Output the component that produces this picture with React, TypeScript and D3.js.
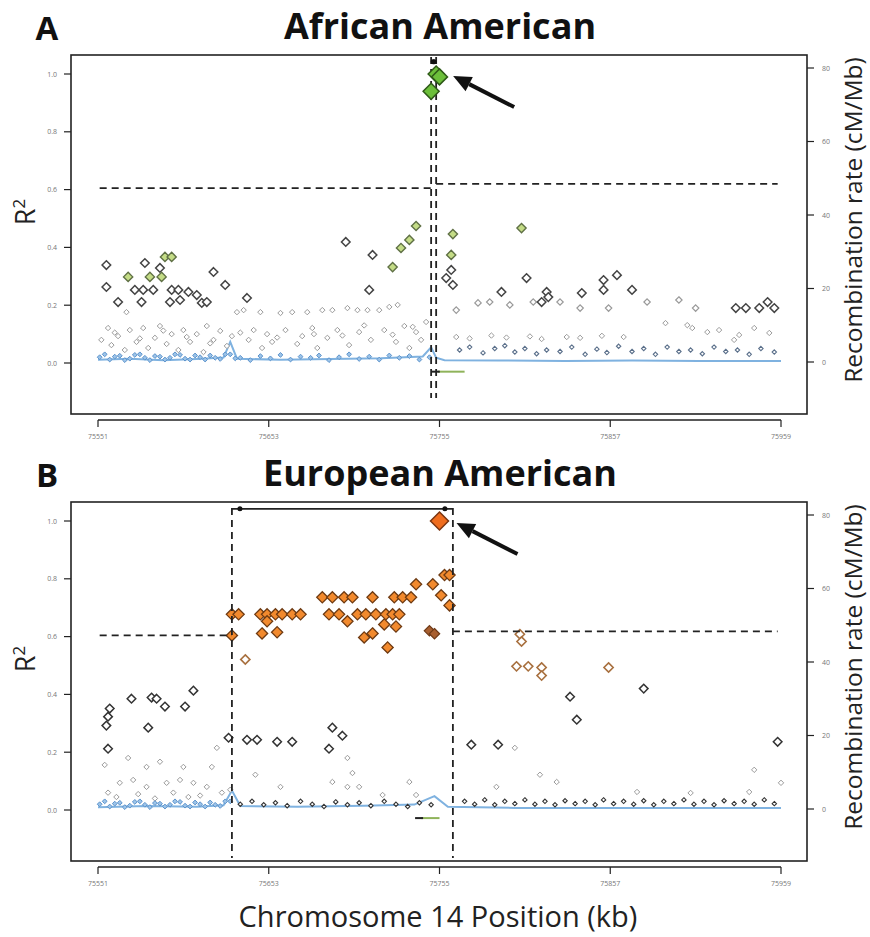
import React from 'react';
import * as d3 from 'd3';

// ---------- axes ----------
const xDomain = [75551, 75959];
const xTickValues = [75551, 75653, 75755, 75857, 75959];
const xTickLabels = ['75551', '75653', '75755', '75857', '75959'];
const r2Ticks = [0, 0.2, 0.4, 0.6, 0.8, 1.0];
const r2TickLabels = ['0.0', '0.2', '0.4', '0.6', '0.8', '1.0'];
const recombTicks = [0, 20, 40, 60, 80];

// ---------- Panel A : African American ----------
const leadA = [[75753, 1.0], [75755, 0.99], [75750, 0.94]];
const greenA = [[75591, .367], [75595, .367], [75569, .298], [75582, .298], [75589, .298], [75732, .398], [75737, .426], [75741, .474], [75727, .332], [75763, .446], [75762, .374], [75804, .467]];
const outlineA = [[75556, .339], [75579, .346], [75588, .329], [75556, .263], [75573, .253], [75578, .253], [75584, .253], [75595, .253], [75599, .253], [75605, .246], [75610, .235], [75563, .211], [75577, .211], [75594, .211], [75600, .218], [75613, .208], [75616, .211], [75620, .315], [75627, .270], [75640, .225], [75699, .419], [75715, .374], [75713, .253], [75762, .322], [75759, .294], [75763, .270], [75807, .294], [75792, .246], [75819, .246], [75816, .211], [75820, .228], [75840, .242], [75853, .287], [75861, .304], [75853, .253], [75870, .253], [75932, .19], [75938, .19], [75946, .19], [75955, .19], [75951, .211]];
const greyMidA = [[75765, .183], [75778, .208], [75785, .211], [75797, .201], [75811, .211], [75827, .211], [75839, .19], [75856, .19], [75879, .211], [75898, .218], [75908, .19]];
const lowA = [[75553, .080], [75557, .121], [75559, .062], [75563, .093], [75567, .045], [75568, .176], [75570, .114], [75574, .073], [75578, .121], [75581, .052], [75585, .087], [75588, .128], [75592, .066], [75595, .100], [75599, .045], [75602, .114], [75606, .073], [75610, .100], [75614, .038], [75616, .128], [75620, .080], [75624, .111], [75628, .059], [75631, .093], [75634, .176], [75638, .183], [75641, .080], [75644, .114], [75648, .176], [75649, .052], [75652, .100], [75655, .073], [75660, .173], [75663, .114], [75667, .176], [75670, .066], [75673, .093], [75676, .176], [75679, .121], [75682, .052], [75685, .183], [75688, .087], [75691, .183], [75694, .114], [75700, .190], [75701, .062], [75706, .183], [75707, .107], [75712, .183], [75714, .080], [75719, .183], [75722, .114], [75725, .194], [75729, .073], [75730, .201], [75734, .128], [75737, .052], [75741, .107], [75744, .080], [75747, .142], [75765, .090], [75773, .085], [75786, .095], [75795, .088], [75809, .092], [75816, .083], [75831, .090], [75839, .087], [75852, .094], [75890, .138], [75903, .131], [75906, .121], [75915, .107], [75865, .090], [75922, .114], [75934, .097], [75943, .121], [75952, .104], [75931, .080],
  [75561, .105], [75576, .085], [75590, .112], [75604, .09], [75618, .068], [75636, .105], [75658, .088], [75680, .1], [75697, .095], [75710, .13], [75727, .098], [75739, .125]];
const baseBlueA = [[75552, .02], [75555, .03], [75558, .012], [75561, .022], [75564, .025], [75567, .01], [75570, .015], [75573, .028], [75576, .03], [75579, .018], [75582, .01], [75585, .024], [75588, .022], [75591, .012], [75594, .018], [75597, .03], [75600, .028], [75603, .015], [75606, .012], [75609, .026], [75612, .02], [75615, .012], [75618, .026], [75621, .018], [75624, .014], [75627, .03], [75630, .03], [75633, .016], [75636, .018], [75642, .01], [75648, .024], [75654, .016], [75660, .028], [75666, .012], [75672, .022], [75678, .018], [75683, .026], [75689, .01], [75695, .02], [75701, .03], [75707, .014], [75713, .022], [75719, .012], [75725, .026], [75731, .018], [75737, .024], [75743, .012], [75749, .02]];
const baseDarkA = [[75767, .045], [75773, .055], [75781, .035], [75788, .05], [75794, .06], [75800, .038], [75806, .05], [75813, .032], [75819, .045], [75827, .04], [75834, .055], [75842, .03], [75849, .048], [75855, .036], [75862, .058], [75870, .04], [75877, .05], [75884, .03], [75891, .055], [75898, .04], [75905, .045], [75912, .032], [75919, .055], [75926, .04], [75933, .045], [75940, .03], [75947, .05], [75955, .038]];
const recombKbA = [75551, 75570, 75590, 75610, 75626, 75630, 75634, 75660, 75690, 75720, 75745, 75750, 75753, 75758, 75790, 75830, 75870, 75910, 75959];
const recombA = [0.6, 0.9, 0.5, 0.8, 1.2, 5.5, 0.9, 0.6, 0.8, 1.0, 1.5, 4, 1.2, 0.5, 0.4, 0.3, 0.4, 0.3, 0.3];
const blockA = [75750, 75753];
const threshA = [[75552, 75750, 0.605], [75753, 75957, 0.62]];

// ---------- Panel B : European American ----------
const leadB = [[75755, 1.0]];
const orangeB = [[75758, .813], [75761, .813], [75741, .781], [75751, .781], [75756, .743], [75761, .708],
  [75685, .736], [75691, .736], [75698, .736], [75703, .736], [75715, .736], [75728, .736], [75733, .736], [75738, .736],
  [75631, .677], [75635, .677], [75648, .677], [75652, .677], [75657, .677], [75661, .677], [75667, .677], [75672, .677], [75689, .677], [75695, .677], [75706, .677], [75711, .677], [75717, .677], [75723, .677], [75727, .677], [75731, .677],
  [75652, .653], [75700, .653], [75649, .611], [75658, .615], [75631, .604], [75722, .642], [75729, .635], [75710, .597], [75715, .611], [75724, .5625]];
const brownB = [[75749, .62], [75752, .61]];
const brownOutlineB = [[75639, .521], [75803, .608], [75804, .583], [75801, .497], [75808, .497], [75816, .493], [75816, .465], [75856, .493]];
const outlineB = [[75571, .385], [75583, .389], [75586, .385], [75591, .358], [75603, .358], [75608, .413], [75557, .323], [75558, .351], [75556, .292], [75581, .285], [75557, .212], [75640, .243], [75646, .243], [75658, .236], [75667, .236], [75691, .285], [75697, .257], [75689, .212], [75629, .25], [75833, .392], [75877, .42], [75837, .3125], [75774, .226], [75790, .226], [75957, .236]];
const lowB = [[75555, .156], [75569, .18], [75580, .149], [75588, .167], [75602, .149], [75619, .149], [75622, .215], [75700, .18], [75703, .128], [75691, .097], [75700, .08], [75707, .08], [75645, .122], [75660, .08], [75721, .052], [75737, .097], [75741, .052], [75564, .094], [75572, .104], [75580, .08], [75592, .094], [75600, .104], [75608, .094], [75616, .08], [75815, .122], [75825, .097], [75789, .08], [75943, .139], [75959, .094], [75873, .0625], [75905, .059], [75940, .0625], [75800, .215], [75557, .06], [75562, .045], [75575, .055], [75585, .04], [75596, .06], [75605, .045], [75612, .05], [75625, .06], [75630, .07]];
const baseBlueB = [[75552, .02], [75555, .03], [75558, .012], [75561, .022], [75564, .025], [75567, .01], [75570, .015], [75573, .028], [75576, .03], [75579, .018], [75582, .01], [75585, .024], [75588, .022], [75591, .012], [75594, .018], [75597, .03], [75600, .028], [75603, .015], [75606, .012], [75609, .026], [75612, .02], [75615, .012], [75618, .026], [75621, .018], [75624, .014], [75627, .03], [75630, .03]];
const baseDarkB = [[75636, .02], [75643, .03], [75650, .018], [75657, .025], [75664, .015], [75672, .03], [75679, .02], [75686, .012], [75693, .028], [75700, .018], [75707, .025], [75714, .015], [75722, .03], [75729, .02], [75736, .012], [75743, .025], [75750, .018],
  [75770, .03], [75776, .02], [75782, .035], [75788, .018], [75794, .03], [75800, .022], [75806, .035], [75812, .02], [75818, .03], [75824, .018], [75830, .032], [75836, .022], [75842, .03], [75848, .018], [75853, .035], [75859, .022], [75865, .03], [75871, .02], [75877, .032], [75883, .018], [75889, .03], [75895, .022], [75901, .035], [75907, .02], [75913, .03], [75919, .018], [75925, .032], [75931, .022], [75937, .03], [75943, .02], [75949, .035], [75955, .022]];
const recombKbB = [75551, 75580, 75610, 75626, 75631, 75636, 75670, 75710, 75740, 75752, 75760, 75800, 75860, 75959];
const recombB = [0.5, 0.8, 0.6, 1, 5, 0.8, 0.6, 0.9, 1.2, 3.5, 0.6, 0.3, 0.3, 0.3];
const blockB = [75631, 75763];
const threshB = [[75552, 75631, 0.604], [75763, 75957, 0.618]];

const diamond = (h: number) => `M0,${-h}L${h},0L0,${h}L${-h},0Z`;

type Pt = number[];

function Points({ data, x, y, h, fill, stroke, sw, op = 1 }: any) {
  return (
    <g>
      {data.map((d: Pt, i: number) => (
        <path key={i} d={diamond(h)} transform={`translate(${x(d[0])},${y(d[1])})`} fill={fill} stroke={stroke} strokeWidth={sw} opacity={op} />
      ))}
    </g>
  );
}

function Panel(props: any) {
  const { off, letter, title, x, layers, lead, leadStyle, recKb, rec, block, thresh, blockTop, blockBottom } = props;
  const y = d3.scaleLinear().domain([0, 1]).range([363 + off, 74 + off]);
  const yr = d3.scaleLinear().domain([0, 80]).range([362 + off, 68 + off]);
  const recPts = recKb.map((k: number, i: number) => [k, rec[i]]);
  const recLine = d3.line<any>().x(d => x(d[0])).y(d => yr(d[1]));
  const lx = x(lead[0][0]), ly = y(lead[0][1]);
  const tip = [lx + 17, ly + 2], tail = [lx + 78, ly + 33];
  const ang = Math.atan2(tail[1] - tip[1], tail[0] - tip[0]);
  const ah = 18, aw = 8;
  const bx = tip[0] + ah * Math.cos(ang), by = tip[1] + ah * Math.sin(ang);
  const head = `M${tip[0]},${tip[1]}L${bx - aw * Math.sin(ang)},${by + aw * Math.cos(ang)}L${bx + aw * Math.sin(ang)},${by - aw * Math.cos(ang)}Z`;
  const dash = '7,5';
  return (
    <g>
      <text x={47} y={40 + off} fontSize={33} fontWeight="bold" textAnchor="middle" fill="#111">{letter}</text>
      <text x={440} y={39 + off} fontSize={36} fontWeight="bold" textAnchor="middle" fill="#111">{title}</text>
      <text transform={`translate(35,${212 + off}) rotate(-90)`} fontSize={27} textAnchor="middle" fill="#222">R<tspan dy={-10} fontSize={17}>2</tspan></text>
      <text transform={`translate(862,${220 + off}) rotate(-90)`} fontSize={24.5} textAnchor="middle" fill="#222">Recombination rate (cM/Mb)</text>
      <rect x={71} y={55 + off} width={736} height={359} fill="none" stroke="#222" strokeWidth={1.6} />
      {r2Ticks.map((t, i) => (
        <g key={i}>
          <line x1={64} x2={71} y1={y(t)} y2={y(t)} stroke="#222" strokeWidth={1.2} />
          <text x={57} y={y(t) + 2.5} fontSize={7} textAnchor="end" fill="#777">{r2TickLabels[i]}</text>
        </g>
      ))}
      {recombTicks.map((t, i) => (
        <g key={i}>
          <line x1={807} x2={814} y1={yr(t)} y2={yr(t)} stroke="#222" strokeWidth={1.2} />
          <text x={822} y={yr(t) + 2.5} fontSize={7} textAnchor="start" fill="#777">{t}</text>
        </g>
      ))}
      <line x1={x(xDomain[0])} x2={x(xDomain[1])} y1={420 + off} y2={420 + off} stroke="#222" strokeWidth={1.6} />
      {xTickValues.map((t, i) => (
        <g key={i}>
          <line x1={x(t)} x2={x(t)} y1={420 + off} y2={427 + off} stroke="#222" strokeWidth={1.2} />
          <text x={x(t)} y={439 + off} fontSize={7} textAnchor="middle" fill="#777">{xTickLabels[i]}</text>
        </g>
      ))}
      <path d={recLine(recPts) || ''} fill="none" stroke="#7fb2e0" strokeWidth={2} />
      {layers.map((L: any, i: number) => <Points key={i} data={L.data} x={x} y={y} h={L.h} fill={L.fill} stroke={L.stroke} sw={L.sw} op={L.op} />)}
      {/* block boundaries */}
      {block.map((b: number, i: number) => (
        <line key={i} x1={x(b)} x2={x(b)} y1={blockTop + off} y2={blockBottom + off} stroke="#222" strokeWidth={1.8} strokeDasharray={dash} />
      ))}
      {thresh.map((t: number[], i: number) => (
        <line key={i} x1={x(t[0])} x2={x(t[1])} y1={y(t[2])} y2={y(t[2])} stroke="#222" strokeWidth={1.8} strokeDasharray={dash} />
      ))}
      <line x1={x(block[0])} x2={x(block[1])} y1={y(1.042)} y2={y(1.042)} stroke="#222" strokeWidth={1.6} />
      <circle cx={x(block[0]) + (block[1] - block[0] > 20 ? 8 : 3)} cy={y(1.042)} r={2.5} fill="#111" />
      <circle cx={x(block[1]) - (block[1] - block[0] > 20 ? 8 : 3)} cy={y(1.042)} r={2.5} fill="#111" />
      <Points data={lead} x={x} y={y} h={leadStyle.h} fill={leadStyle.fill} stroke={leadStyle.stroke} sw={1.5} />
      {/* gene track */}
      <line x1={x(props.gene[0])} x2={x(props.gene[1])} y1={y(props.gene[2])} y2={y(props.gene[2])} stroke="#8fb35a" strokeWidth={2} />
      <line x1={x(props.gene[0]) - 6} x2={x(props.gene[0]) + 2} y1={y(props.gene[2])} y2={y(props.gene[2])} stroke="#222" strokeWidth={2} />
      {/* arrow */}
      <line x1={tail[0]} y1={tail[1]} x2={bx} y2={by} stroke="#111" strokeWidth={4} />
      <path d={head} fill="#111" />
    </g>
  );
}

export default function App() {
  const x = d3.scaleLinear().domain(xDomain).range([98, 781]);
  const layersA = [
    { data: lowA, h: 2.7, fill: '#fff', stroke: '#9a9a9a', sw: 1 },
    { data: baseBlueA, h: 2.4, fill: '#9cc3e8', stroke: '#5b93cc', sw: 1 },
    { data: baseDarkA, h: 2.2, fill: '#fff', stroke: '#5a6f8a', sw: 1.1 },
    { data: greyMidA, h: 3.2, fill: '#fff', stroke: '#999', sw: 1.2 },
    { data: outlineA, h: 4.3, fill: '#fff', stroke: '#444', sw: 1.5 },
    { data: greenA, h: 4.6, fill: '#c4dc86', stroke: '#5f7045', sw: 1.4 },
  ];
  const layersB = [
    { data: lowB, h: 2.7, fill: '#fff', stroke: '#9a9a9a', sw: 1 },
    { data: baseBlueB, h: 2.4, fill: '#9cc3e8', stroke: '#5b93cc', sw: 1 },
    { data: baseDarkB, h: 2.2, fill: '#fff', stroke: '#333', sw: 1.1 },
    { data: outlineB, h: 4.3, fill: '#fff', stroke: '#333', sw: 1.5 },
    { data: brownOutlineB, h: 4.6, fill: '#fff', stroke: '#a8703f', sw: 1.6 },
    { data: brownB, h: 5.2, fill: '#a85f30', stroke: '#6e3a18', sw: 1.2 },
    { data: orangeB, h: 5.6, fill: '#f28a2e', stroke: '#6e3a12', sw: 1.3 },
  ];
  return (
    <svg width={870} height={937} style={{ position: 'absolute', left: 0, top: 0, background: '#fff' }} fontFamily="'Open Sans', sans-serif">
      <Panel off={0} letter="A" title="African American" x={x} layers={layersA} lead={leadA}
        leadStyle={{ h: 8, fill: '#6cbf3a', stroke: '#2f5a18' }} recKb={recombKbA} rec={recombA}
        block={blockA} thresh={threshA} blockTop={57} blockBottom={398} gene={[75754, 75770, -0.03]} />
      <Panel off={447} letter="B" title="European American" x={x} layers={layersB} lead={leadB}
        leadStyle={{ h: 9, fill: '#ef6d1e', stroke: '#7a3510' }} recKb={recombKbB} rec={recombB}
        block={blockB} thresh={threshB} blockTop={61} blockBottom={411} gene={[75744, 75755, -0.028]} />
      <text x={438} y={927} fontSize={29} textAnchor="middle" fill="#222">Chromosome 14 Position (kb)</text>
    </svg>
  );
}
